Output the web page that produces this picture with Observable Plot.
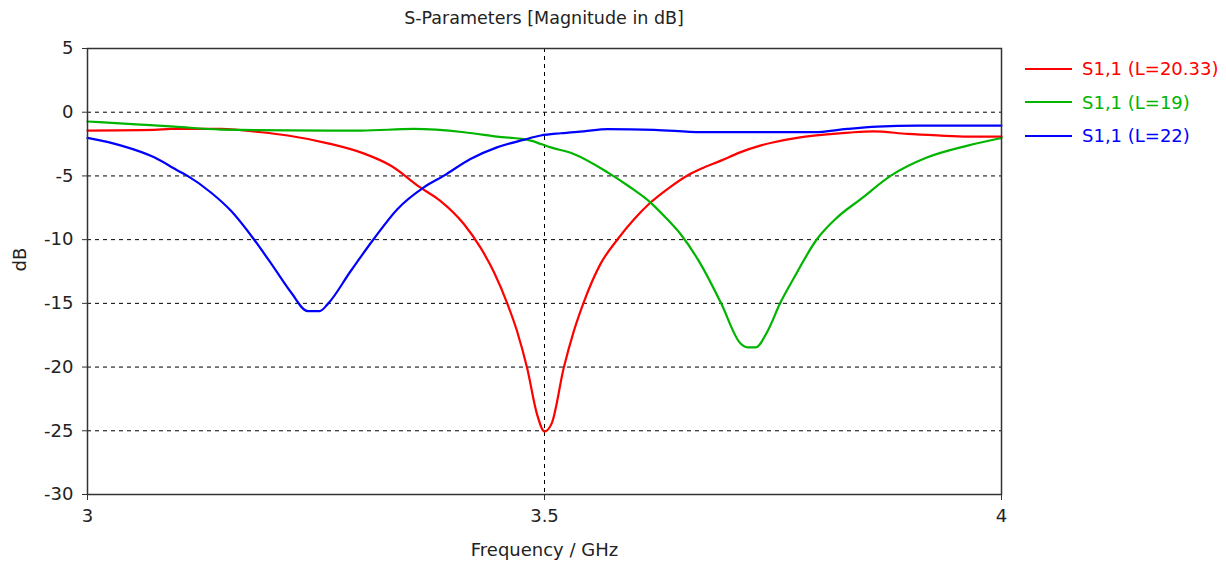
<!DOCTYPE html>
<html><head><meta charset="utf-8">
<script src="https://cdn.jsdelivr.net/npm/d3@7"></script>
<script src="https://cdn.jsdelivr.net/npm/@observablehq/plot@0.6"></script>
<style>
body{margin:0;background:#fff;font-family:"DejaVu Sans",sans-serif;}
#wrap{position:relative;width:1226px;height:565px;}
#title{position:absolute;left:0;width:1088px;top:8px;text-align:center;font-size:17.5px;color:#222;}
#legend{position:absolute;left:1025px;top:52px;font-size:18px;}
.li{display:flex;align-items:center;height:33.5px;}
.sw{width:47px;height:0;border-top:2.5px solid;margin-right:10px;}
</style></head><body>
<div id="wrap"><div id="chart"></div><div id="title">S-Parameters [Magnitude in dB]</div><div id="legend"></div></div>
<script>
const seriesNames = ["S1,1 (L=20.33)", "S1,1 (L=19)", "S1,1 (L=22)"];
const seriesColors = ["#ff0000", "#00b400", "#0000ff"];
const freqL2033 = [3.000,3.073,3.091,3.146,3.190,3.219,3.263,3.302,3.332,3.364,3.386,3.412,3.430,3.445,3.459,3.470,3.481,3.492,3.500,3.508,3.521,3.532,3.543,3.561,3.580,3.598,3.616,3.636,3.656,3.674,3.693,3.714,3.736,3.751,3.778,3.806,3.833,3.860,3.897,3.930,3.963,4.000];
const dbL2033 = [-1.44,-1.39,-1.31,-1.31,-1.57,-1.83,-2.44,-3.23,-4.2,-5.9,-6.95,-8.79,-10.63,-12.6,-14.96,-17.19,-20.08,-23.75,-25.06,-24.4,-20.08,-17.2,-14.9,-11.94,-9.97,-8.4,-7.09,-5.95,-4.98,-4.35,-3.8,-3.15,-2.62,-2.36,-2.0,-1.76,-1.6,-1.5,-1.7,-1.82,-1.91,-1.91];
const freqL19 = [3.000,3.058,3.095,3.146,3.263,3.300,3.357,3.412,3.448,3.485,3.496,3.507,3.532,3.569,3.593,3.616,3.633,3.649,3.671,3.693,3.714,3.722,3.731,3.744,3.758,3.773,3.798,3.820,3.846,3.879,3.919,3.963,4.000];
const dbL19 = [-0.73,-0.97,-1.13,-1.36,-1.44,-1.44,-1.31,-1.57,-1.91,-2.23,-2.49,-2.76,-3.28,-4.72,-5.85,-7.09,-8.3,-9.58,-11.94,-14.96,-18.11,-18.45,-18.45,-17.19,-14.96,-12.99,-9.97,-8.27,-6.82,-4.98,-3.54,-2.62,-2.02];
const freqL22 = [3.000,3.037,3.073,3.099,3.109,3.135,3.157,3.182,3.204,3.223,3.241,3.254,3.263,3.288,3.313,3.339,3.368,3.390,3.419,3.448,3.477,3.496,3.518,3.543,3.569,3.620,3.671,3.736,3.795,3.831,3.864,3.908,4.000];
const dbL22 = [-2.02,-2.62,-3.54,-4.59,-4.98,-6.3,-7.74,-9.97,-12.2,-14.17,-15.61,-15.61,-15.04,-12.46,-9.97,-7.61,-5.9,-4.98,-3.67,-2.76,-2.17,-1.83,-1.65,-1.5,-1.33,-1.38,-1.57,-1.57,-1.57,-1.31,-1.13,-1.05,-1.05];
const xTicks = [3, 3.5, 4];
const xTickLabels = ["3", "3.5", "4"];
const yTicks = [5, 0, -5, -10, -15, -20, -25, -30];
const yGrid = [0, -5, -10, -15, -20, -25];

const freqs = [freqL2033, freqL19, freqL22];
const dbs = [dbL2033, dbL19, dbL22];
const data = [];
seriesNames.forEach((s, i) => freqs[i].forEach((f, j) => data.push({series: s, f, db: dbs[i][j]})));

const chart = Plot.plot({
  width: 1226, height: 565,
  marginLeft: 87, marginRight: 225, marginTop: 48, marginBottom: 71,
  style: {fontFamily: "DejaVu Sans, sans-serif", fontSize: "18px", color: "#222", background: "white"},
  x: {domain: [3, 4]},
  y: {domain: [-30, 5]},
  color: {domain: seriesNames, range: seriesColors},
  marks: [
    Plot.gridY(yGrid, {stroke: "#000", strokeOpacity: 1, strokeDasharray: "4,4", strokeWidth: 1}),
    Plot.gridX([3.5], {stroke: "#000", strokeOpacity: 1, strokeDasharray: "4,4", strokeWidth: 1}),
    Plot.line(data, {x: "f", y: "db", z: "series", stroke: "series", strokeWidth: 2.2, curve: "monotone-x"}),
    Plot.frame({stroke: "#333", strokeWidth: 1.5}),
    Plot.axisY(yTicks, {tickSize: 5, tickPadding: 9, label: null, stroke: "#333", fontSize: 18, tickFormat: d => String(d)}),
    Plot.axisX(xTicks, {tickSize: 6, tickPadding: 9, label: null, stroke: "#333", fontSize: 18, tickFormat: (d, i) => xTickLabels[i]}),
    Plot.text(["Frequency / GHz"], {frameAnchor: "bottom", dy: 61, fontSize: 18, fill: "#222"}),
    Plot.text(["dB"], {frameAnchor: "left", dx: -67, rotate: -90, fontSize: 18, fill: "#222"})
  ]
});
document.getElementById("chart").appendChild(chart);

const lg = document.getElementById("legend");
seriesNames.forEach((s, i) => {
  const d = document.createElement("div"); d.className = "li";
  d.innerHTML = `<span class="sw" style="border-color:${seriesColors[i]}"></span><span style="color:${seriesColors[i]}">${s}</span>`;
  lg.appendChild(d);
});
</script></body></html>
